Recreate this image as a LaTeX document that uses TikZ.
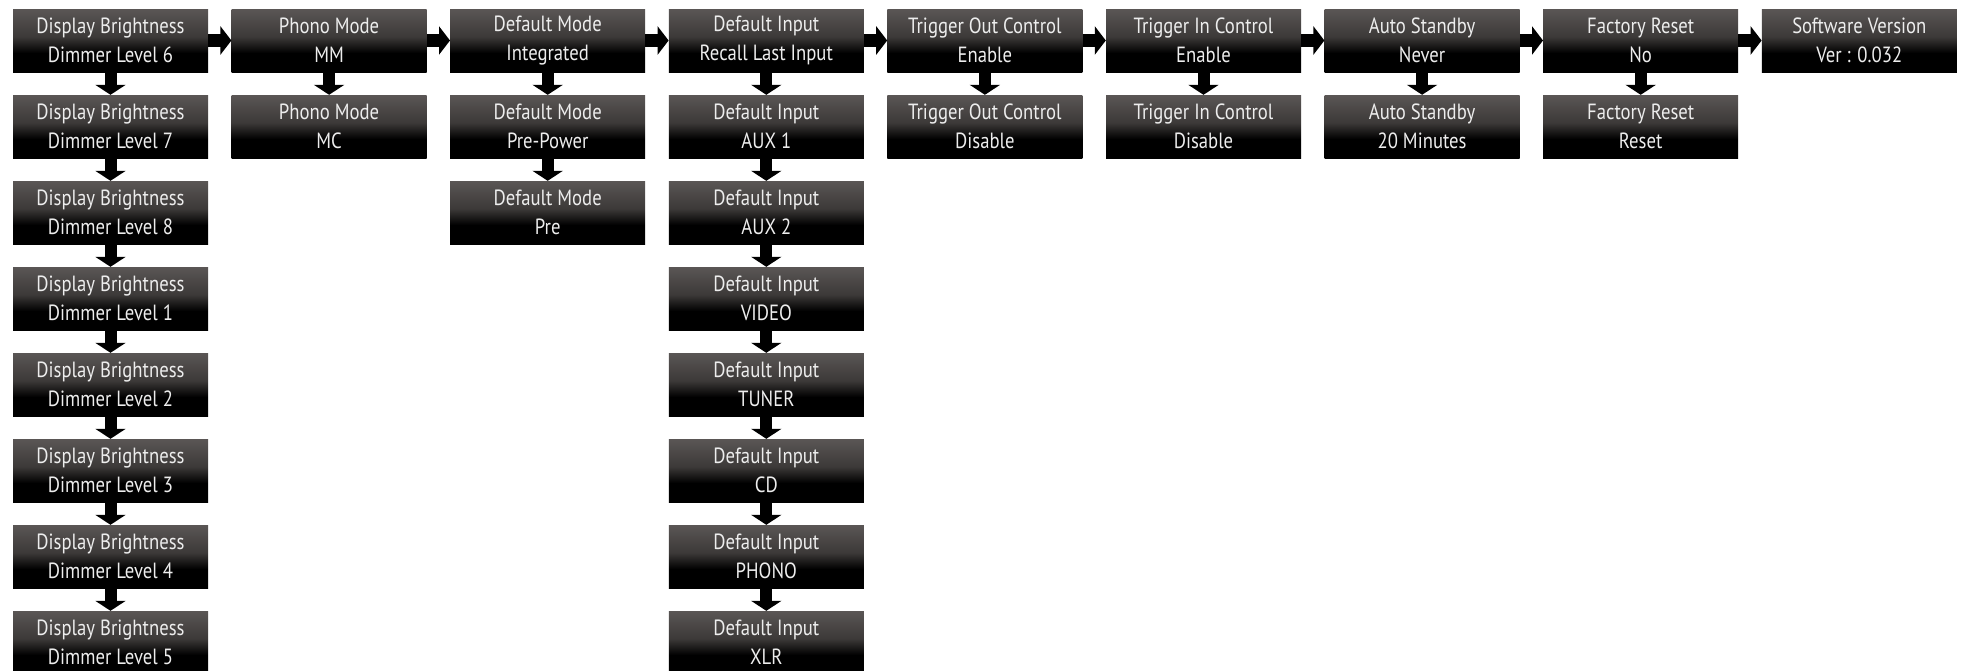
\documentclass[tikz,border=0pt]{standalone}
\usepackage{fontspec}
\setmainfont{PT Sans}[FakeStretch=0.85]
\usetikzlibrary{arrows.meta}
\definecolor{gA}{HTML}{3C3938}
\definecolor{gB}{HTML}{5A5655}
\definecolor{txt}{HTML}{EDEDED}
\pgfdeclareverticalshading{boxgrad}{100bp}{color(0bp)=(black); color(40bp)=(black); color(53bp)=(gA); color(75bp)=(gB); color(100bp)=(gB)}
\tikzset{
  menubox/.style={shade, shading=boxgrad, minimum width=195pt, minimum height=63pt,
    inner sep=0pt, text=txt, align=center, font=\fontsize{22pt}{29pt}\selectfont},
  harrow/.style={line width=13pt, -{Triangle[width=28pt,length=11pt]}},
  varrow/.style={line width=12pt, -{Triangle[width=30pt,length=10pt]}},
}
\begin{document}
\begin{tikzpicture}[x=1pt,y=-1pt]
\useasboundingbox (0,0) rectangle (1966,670);
\foreach \i/\title/\items in {
  0/Display Brightness/{Dimmer Level 6,Dimmer Level 7,Dimmer Level 8,Dimmer Level 1,Dimmer Level 2,Dimmer Level 3,Dimmer Level 4,Dimmer Level 5},
  1/Phono Mode/{MM,MC},
  2/Default Mode/{Integrated,Pre-Power,Pre},
  3/Default Input/{Recall Last Input,AUX 1,AUX 2,VIDEO,TUNER,CD,PHONO,XLR},
  4/Trigger Out Control/{Enable,Disable},
  5/Trigger In Control/{Enable,Disable},
  6/Auto Standby/{Never,20 Minutes},
  7/Factory Reset/{No,Reset},
  8/Software Version/{Ver : 0.032}}{
  \foreach \v [count=\j from 0, remember=\j as \jp (initially 0)] in \items {
    \node[menubox] (c\i-\j) at ({110.5+218.6*\i},{40.5+86*\j}) {\title\\\v};
    \ifnum\j>0 \draw[varrow] (c\i-\jp.south) -- (c\i-\j.north);\fi
  }
}
\foreach \i [evaluate=\i as \n using int(\i+1)] in {0,...,7}
  \draw[harrow] (c\i-0.east) -- (c\n-0.west);
\end{tikzpicture}
\end{document}
